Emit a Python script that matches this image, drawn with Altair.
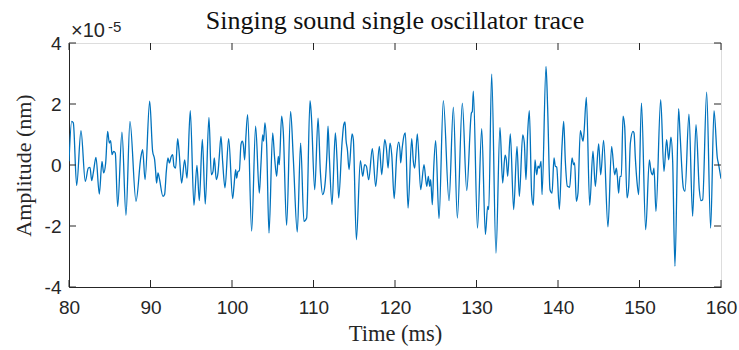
import altair as alt
import pandas as pd

time_ms = [
    80.0, 80.33, 80.53, 80.94, 81.47, 82.0, 82.37, 82.58, 82.78, 82.98, 83.31, 83.72, 84.05, 84.25, 84.5,
    84.74, 84.95, 85.11, 85.28, 85.48, 85.68, 85.97, 86.5, 86.99, 87.48, 88.22, 88.83, 89.04, 89.33, 89.9,
    90.26, 90.51, 90.63, 90.75, 90.92, 91.08, 91.53, 91.73, 91.94, 92.14, 92.31, 92.55, 92.72, 92.88, 93.08,
    93.33, 93.49, 93.82, 94.19, 94.48, 94.88, 95.33, 95.7, 95.99, 96.36, 96.72, 97.17, 97.46, 97.67, 97.83,
    98.07, 98.28, 98.44, 98.65, 98.85, 99.14, 99.59,
    100.08, 100.24, 100.45, 100.57, 100.73, 100.9, 101.1, 101.26, 101.39, 101.55, 101.71, 101.92, 102.41,
    102.9, 103.35, 103.55, 103.76, 103.88, 104.04, 104.25, 104.54, 104.99, 105.23, 105.48, 105.68, 105.8,
    106.09, 106.29, 106.7, 107.19, 107.52, 108.01, 108.42, 108.83, 109.16, 109.57, 109.73,
    110.15, 110.56, 110.84, 111.13, 111.33, 111.66, 111.78, 111.95, 112.27, 112.68, 112.89, 113.09, 113.5,
    113.71, 113.87, 113.99, 114.16, 114.36, 114.73, 114.89, 115.26, 115.75, 116.04, 116.28, 116.49, 116.77,
    117.22, 117.63, 118.08, 118.37, 118.74, 118.94, 119.15, 119.39, 119.6, 119.9,
    120.21, 120.45, 120.62, 120.7, 120.86, 121.11, 121.27, 121.6, 122.05, 122.25, 122.42, 122.74, 123.15,
    123.56, 123.89, 124.09, 124.26, 124.38, 124.58, 124.75, 124.99, 125.4, 125.93, 126.63, 127.16, 127.65,
    128.26, 128.8, 129.37, 129.49, 129.61, 130.12,
    130.64, 131.09, 131.37, 131.5, 131.86, 132.39, 132.88, 133.21, 133.5, 133.66, 133.83, 134.15, 134.56,
    134.97, 135.26, 135.67, 135.87, 136.07, 136.28, 136.48, 136.77, 136.97, 137.18, 137.38, 137.55, 137.71,
    137.92, 138.04, 138.53, 138.73, 139.02, 139.27, 139.51, 139.67, 139.84, 140.17,
    140.49, 140.7, 140.9, 141.15, 141.43, 141.72, 141.92, 142.04, 142.25, 142.45, 142.74, 143.07, 143.19,
    143.48, 143.89, 144.29, 144.58, 144.99, 145.24, 145.6, 146.13, 146.58, 146.95, 147.16, 147.28, 147.44,
    147.61, 147.77, 147.98, 148.18, 148.47, 148.67, 148.88, 149.2, 149.33, 149.49, 149.69, 149.9, 150.24,
    150.76, 151.21, 151.41, 151.61, 151.78, 152.02, 152.6, 153.0, 153.33, 153.58, 153.74, 153.86, 154.07,
    154.35, 154.8, 154.97, 155.38, 155.58, 156.07, 156.52, 156.93, 157.34, 157.54, 157.75, 158.24, 158.73,
    159.14, 159.55, 159.71, 160.0,
]

# amplitude in units of 1e-5 nm
amplitude = [
    0.12, 1.43, 1.38, -0.67, 1.13, -0.54, -0.1, -0.08, -0.51, -0.26, 0.25, -0.95, 0.12, -0.26, 0.07,
    1.1, 0.72, 0.8, 0.34, 0.45, 0.39, -1.36, 1.08, -1.65, 1.43, -1.19, 0.28, 0.5, -0.48, 2.09,
    0.45, 0.17, -0.21, -0.59, -0.26, -0.43, -1.03, -0.97, -0.21, 0.23, 0.07, 0.28, 0.34, -0.04, -0.1,
    0.86, 0.5, -0.59, 0.17, -0.43, 1.78, -1.32, -0.01, -1.17, 0.84, -1.28, 1.56, -0.32, -0.21, 0.23,
    -0.48, -0.26, 0.28, 0.94, 0.12, -0.75, 0.86,
    -1.1, -0.7, -0.15, -0.43, -0.21, -0.19, 0.67, 0.78, 0.67, 0.17, 0.94, 1.65, -2.17,
    1.27, -0.92, 0.01, 0.99, 0.78, 1.38, 0.67, -2.23, 1.05, 0.23, -0.37, 0.28, 0.01,
    1.6, 1.1, -1.98, 1.76, 0.23, -2.2, 0.72, -1.85, -1.74, 2.11, 1.65,
    -0.81, 1.54, -0.21, -0.97, -0.81, 0.45, 1.27, 0.23, -1.3, 1.05, 0.17, -1.08, 0.72,
    1.32, 1.41, 0.83, 0.5, -0.15, 1.02, 0.83, -2.45, 0.14, -0.37, 0.01, -0.04, -0.48,
    0.54, -0.7, 0.61, -0.32, 0.83, 0.56, -0.1, 0.72, 0.34, -1.1,
    0.34, 0.75, 0.45, 0.07, 0.5, 0.97, 1.05, -1.41, 0.86, 0.12, -0.1, 1.02, -0.81,
    0.01, -0.7, -0.37, -0.7, -0.48, -1.3, -0.1, 0.8, -1.76, 2.11, -1.17, 1.9, -1.74,
    2.03, -0.84, 1.7, 1.76, 2.42, -2.07,
    1.19, -2.28, -1.36, -1.46, 2.98, -2.89, 1.23, -0.59, 0.32, 0.17, -0.37, 1.02, -1.46,
    0.61, -1.03, 0.99, 0.72, -0.48, 1.05, 1.78, -0.97, -1.32, 0.17, -0.32, -0.04, -0.1,
    0.12, -0.97, 3.23, 1.87, -0.81, -0.92, 0.23, -0.04, -0.07, -1.45,
    0.61, 1.43, 0.12, -0.7, -0.73, 0.23, 0.01, 0.07, -1.19, -0.92, 1.13, 0.78, 1.05,
    2.22, -1.32, 0.45, -0.7, 0.69, -0.32, 0.81, -2.03, 0.61, -0.32, -0.1, -0.37, -0.92,
    -0.37, -0.37, 1.6, 1.27, -1.08, -0.73, 0.72, 1.1, 1.05, 0.23, -0.54, -0.97, 2.03,
    -2.12, 0.17, -0.21, -0.32, -0.1, -1.52, 2.14, -0.21, 0.83, 0.17, 0.61, 0.91, 0.12,
    -3.32, 1.85, 1.05, -0.75, -0.86, 1.67, -1.68, 1.32, -0.81, -1.17, -1.14, 2.39, -2.07,
    1.78, 0.23, 0.01, -0.45,
]

x_ticks = [80, 90, 100, 110, 120, 130, 140, 150, 160]
y_ticks = [-4, -2, 0, 2, 4]
title_text = ["Singing sound single oscillator trace"]

W, H = 652, 244
AX = "#262626"
SERIF = "Liberation Serif"
SANS = "Liberation Sans"

df = pd.DataFrame({"t": time_ms, "a": amplitude})
xt = pd.DataFrame({"t": x_ticks})
yt = pd.DataFrame({"a": y_ticks})

xscale = alt.Scale(domain=[80, 160], nice=False, zero=False)
yscale = alt.Scale(domain=[-4, 4], nice=False, zero=False)

line = alt.Chart(df).mark_line(
    color="#0072BD", strokeWidth=1.3, interpolate="monotone", clip=True
).encode(
    x=alt.X("t:Q", scale=xscale, title="Time (ms)",
            axis=alt.Axis(values=x_ticks, tickSize=0, labelPadding=11, titlePadding=5,
                          labelFlush=False, labelOverlap=False,
                          grid=False, domainColor=AX, labelColor=AX, titleColor=AX,
                          labelFont=SANS, labelFontSize=19, titleFont=SERIF,
                          titleFontSize=22.5, titleFontWeight="normal")),
    y=alt.Y("a:Q", scale=yscale, title="Amplitude (nm)",
            axis=alt.Axis(values=y_ticks, tickSize=0, labelPadding=8, titlePadding=9,
                          labelFlush=False, labelOverlap=False,
                          grid=False, domainColor=AX, labelColor=AX, titleColor=AX,
                          labelExpr="datum.value + ''",
                          labelFont=SANS, labelFontSize=19, titleFont=SERIF,
                          titleFontSize=22, titleFontWeight="normal")),
)

tb = alt.Chart(xt).mark_rule(color=AX, strokeWidth=1).encode(
    x=alt.X("t:Q", scale=xscale), y=alt.value(H), y2=alt.value(H - 7))
tt = alt.Chart(xt).mark_rule(color=AX, strokeWidth=1).encode(
    x=alt.X("t:Q", scale=xscale), y=alt.value(0), y2=alt.value(7))
tl = alt.Chart(yt).mark_rule(color=AX, strokeWidth=1).encode(
    y=alt.Y("a:Q", scale=yscale), x=alt.value(0), x2=alt.value(7))
tr = alt.Chart(yt).mark_rule(color=AX, strokeWidth=1).encode(
    y=alt.Y("a:Q", scale=yscale), x=alt.value(W), x2=alt.value(W - 7))

mult = alt.Chart(pd.DataFrame({"s": ["\u00d710"]})).mark_text(
    align="left", baseline="alphabetic", font=SANS, fontSize=20, color=AX
).encode(text="s:N", x=alt.value(2), y=alt.value(-6))
expo = alt.Chart(pd.DataFrame({"s": ["-5"]})).mark_text(
    align="left", baseline="alphabetic", font=SANS, fontSize=15, color=AX
).encode(text="s:N", x=alt.value(39), y=alt.value(-11))

title = alt.Chart(pd.DataFrame({"s": title_text})).mark_text(
    align="center", baseline="alphabetic", font=SERIF, fontSize=26, color="#111111"
).encode(text="s:N", x=alt.value(W / 2), y=alt.value(-14))

chart = alt.layer(line, tb, tt, tl, tr, mult, expo, title).properties(
    width=W, height=H,
    autosize=alt.AutoSizeParams(type="none"),
    padding={"left": 69, "top": 43, "right": 18, "bottom": 63},
).configure_view(stroke=AX, strokeWidth=1).configure(background="white")

chart.save("out.html", embed_options={"renderer": "svg", "actions": False})
